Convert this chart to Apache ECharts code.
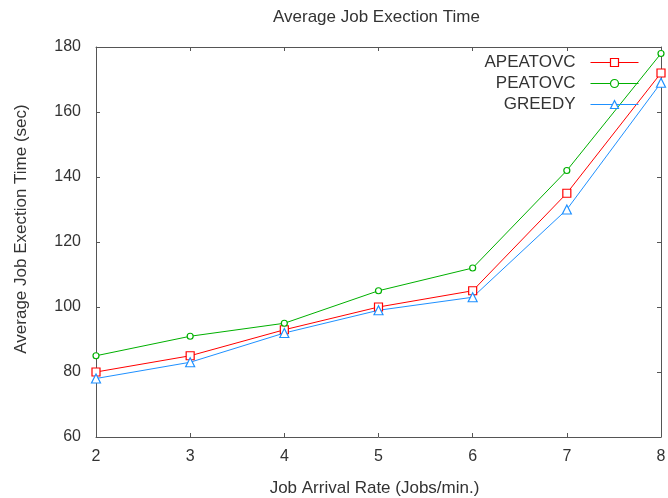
<!DOCTYPE html>
<html>
<head>
<meta charset="utf-8">
<script src="https://cdn.jsdelivr.net/npm/echarts@6/dist/echarts.min.js"></script>
<style>
  html, body { margin: 0; padding: 0; background: #fff; }
  #main { width: 668px; height: 498px; }
</style>
</head>
<body>
<div id="main"></div>
<script>
// 数据
var rates = ['2', '3', '4', '5', '6', '7', '8']
var apeatovc = [80, 85, 93, 100, 105, 135, 172]
var peatovc = [85, 91, 95, 105, 112, 142, 178]
var greedy = [78, 83, 92, 99, 103, 130, 169]

var myChart = echarts.init(document.getElementById('main'))
var font = 'Liberation Sans, Arial, sans-serif'
var axisColor = '#555'
var textColor = '#333'

function line(name, data, color, symbol, size) {
    return {
        name: name,
        type: 'line',
        data: data,
        symbol: symbol,
        symbolSize: size,
        showAllSymbol: true,
        lineStyle: { color: color, width: 1 },
        itemStyle: { color: '#fff', borderColor: color, borderWidth: 1.2 },
        emphasis: { disabled: true },
        animation: false
    }
}

var option = {
    backgroundColor: '#fff',
    title: {
        text: 'Average Job Exection Time',
        left: 268,
        top: 4,
        textStyle: { fontFamily: font, fontSize: 17, fontWeight: 'normal', color: textColor }
    },
    legend: {
        right: 24,
        top: 49,
        orient: 'vertical',
        align: 'right',
        itemWidth: 48,
        itemHeight: 10,
        itemGap: 4,
        textStyle: { fontFamily: font, fontSize: 17, color: textColor, padding: [0, 10, 0, 0] },
        lineStyle: { width: 1 },
        itemStyle: { borderWidth: 1.2 },
        data: ['APEATOVC', 'PEATOVC', 'GREEDY']
    },
    grid: { left: 96, right: 7, top: 47, bottom: 61, outerBoundsMode: 'none' },
    xAxis: [{
        type: 'category',
        data: rates,
        boundaryGap: false,
        name: 'Job Arrival Rate (Jobs/min.)',
        nameLocation: 'middle',
        nameGap: 43,
        nameTextStyle: { fontFamily: font, fontSize: 17, color: textColor, padding: [0, 8, 0, 0] },
        axisLine: { lineStyle: { color: axisColor, width: 1 } },
        axisTick: { inside: true, length: 4, lineStyle: { color: axisColor } },
        axisLabel: { fontFamily: font, fontSize: 16, color: textColor, margin: 12 },
        splitLine: { show: false }
    }, {
        type: 'category',
        data: rates,
        boundaryGap: false,
        position: 'top',
        axisLine: { lineStyle: { color: axisColor, width: 1 } },
        axisTick: { inside: true, length: 4, lineStyle: { color: axisColor } },
        axisLabel: { show: false }
    }],
    yAxis: [{
        type: 'value',
        min: 60,
        max: 180,
        interval: 20,
        name: 'Average Job Exection Time (sec)',
        nameLocation: 'middle',
        nameGap: 66,
        nameTextStyle: { fontFamily: font, fontSize: 17, color: textColor, padding: [0, 0, 0, 26] },
        axisLine: { show: true, lineStyle: { color: axisColor, width: 1 } },
        axisTick: { show: true, inside: true, length: 4, lineStyle: { color: axisColor } },
        axisLabel: { fontFamily: font, fontSize: 16, color: textColor, margin: 15 },
        splitLine: { show: false }
    }, {
        type: 'value',
        min: 60,
        max: 180,
        interval: 20,
        position: 'right',
        axisLine: { show: true, lineStyle: { color: axisColor, width: 1 } },
        axisTick: { show: true, inside: true, length: 4, lineStyle: { color: axisColor } },
        axisLabel: { show: false },
        splitLine: { show: false }
    }],
    series: [
        line('APEATOVC', apeatovc, '#ff0000', 'rect', 8),
        line('PEATOVC', peatovc, '#00b000', 'circle', 6),
        line('GREEDY', greedy, '#1e90ff', 'triangle', 9)
    ]
}
myChart.setOption(option)
</script>
</body>
</html>
